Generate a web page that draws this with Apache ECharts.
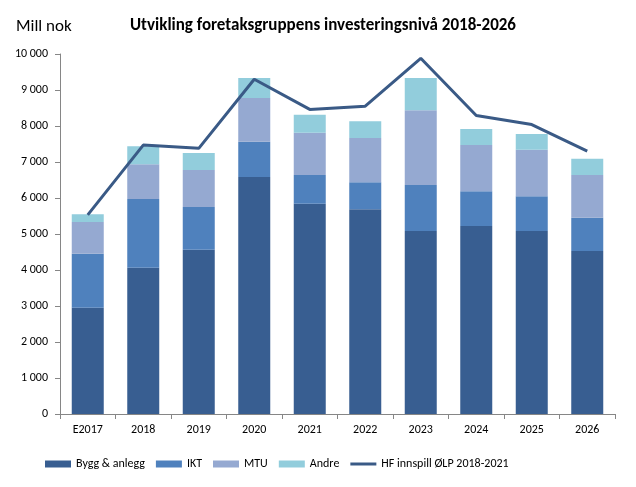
<!DOCTYPE html>
<html><head><meta charset="utf-8">
<script src="https://cdn.jsdelivr.net/npm/echarts@6/dist/echarts.min.js"></script>
<style>html,body{margin:0;padding:0;background:#fff}#c{width:636px;height:487px}</style>
</head><body><div id="c"></div>
<script>
const categories = ['E2017','2018','2019','2020','2021','2022','2023','2024','2025','2026'];
const bygg  = [2950, 4060, 4560, 6580, 5840, 5690, 5080, 5220, 5080, 4530];
const ikt   = [1500, 1910, 1190,  980,  800,  750, 1280,  970,  970,  920];
const mtu   = [ 880,  970, 1030, 1220, 1170, 1230, 2080, 1280, 1290, 1190];
const andre = [ 220,  500,  470,  550,  500,  460,  890,  450,  440,  450];
const hfInnspill = [5530, 7470, 7380, 9300, 8460, 8550, 9880, 8290, 8040, 7300];
const seriesNames = ['Bygg & anlegg','IKT','MTU','Andre','HF innspill ØLP 2018-2021'];

const font = 'Calibri, Carlito, "Liberation Sans Narrow", Lato, "Open Sans", sans-serif';
const fmt = v => String(v).replace(/\B(?=(\d{3})+(?!\d))/g, ' ');
const chart = echarts.init(document.getElementById('c'), null, {renderer:'canvas'});
const barCommon = {type:'bar', stack:'a', barWidth:32};
chart.setOption({
  animation:false,
  textStyle:{fontFamily:font},
  title:[
    {text:'Utvikling foretaksgruppens investeringsnivå 2018-2026', left:318, top:12, textAlign:'center',
     textStyle:{fontFamily:font, fontSize:17, fontWeight:'bold', color:'#000'}},
    {text:'Mill nok', left:11, top:13, textStyle:{fontFamily:font, fontSize:17, fontWeight:'normal', color:'#000'}}
  ],
  grid:{left:60, right:21, top:54, bottom:73, containLabel:false},
  legend:{
    bottom:12, left:40, itemWidth:26, itemHeight:7, itemGap:11,
    textStyle:{fontFamily:font, fontSize:12, color:'#000'},
    data:[
      {name:seriesNames[0], icon:'rect'},
      {name:seriesNames[1], icon:'rect'},
      {name:seriesNames[2], icon:'rect'},
      {name:seriesNames[3], icon:'rect'},
      {name:seriesNames[4], icon:'path://M0,0h26v3h-26z'}
    ]
  },
  xAxis:{type:'category', data:categories,
    axisLine:{lineStyle:{color:'#868686'}},
    axisTick:{show:true, alignWithLabel:false, length:5, lineStyle:{color:'#868686'}},
    axisLabel:{color:'#000', fontSize:12, margin:10, fontFamily:font}},
  yAxis:{type:'value', min:0, max:10000, interval:1000,
    axisLine:{show:true, lineStyle:{color:'#868686'}},
    axisTick:{show:true, length:5, lineStyle:{color:'#868686'}},
    splitLine:{show:false},
    axisLabel:{color:'#000', fontSize:12, margin:12, fontFamily:font, formatter:fmt}},
  series:[
    Object.assign({name:seriesNames[0], data:bygg, itemStyle:{color:'#385e91'}}, barCommon),
    Object.assign({name:seriesNames[1], data:ikt, itemStyle:{color:'#4f81bd'}}, barCommon),
    Object.assign({name:seriesNames[2], data:mtu, itemStyle:{color:'#95a9d1'}}, barCommon),
    Object.assign({name:seriesNames[3], data:andre, itemStyle:{color:'#92cddc'}}, barCommon),
    {name:seriesNames[4], type:'line', data:hfInnspill, symbol:'none', showSymbol:false,
     lineStyle:{color:'#3a5a86', width:3}, itemStyle:{color:'#3a5a86'}, z:10}
  ]
});
</script></body></html>
